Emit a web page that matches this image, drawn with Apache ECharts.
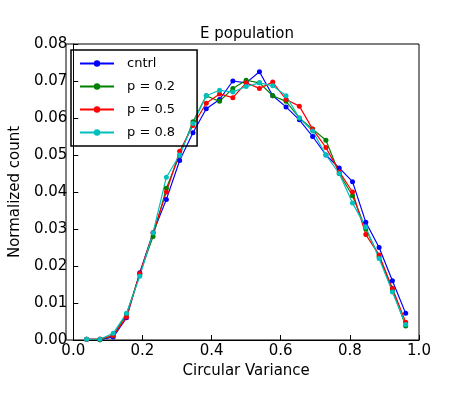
<!DOCTYPE html>
<html><head><meta charset="utf-8">
<script src="https://cdn.jsdelivr.net/npm/echarts@6/dist/echarts.min.js"></script>
<style>html,body{margin:0;padding:0;background:#fff}#c{width:459px;height:400px}</style>
</head><body><div id="c"></div>
<script>
const xs = [];
for (let i = 1; i <= 25; i++) xs.push(i / 26);
const cntrl = [0.0002,0.0001,0.0008,0.006,0.0182,0.029,0.038,0.0485,0.056,0.0625,0.065,0.070,0.0695,0.0725,0.066,0.063,0.0595,0.055,0.050,0.0465,0.0428,0.0318,0.025,0.016,0.0072];
const p02 = [0.0002,0.0001,0.0012,0.007,0.0178,0.028,0.041,0.050,0.059,0.066,0.0645,0.068,0.0702,0.0695,0.066,0.0645,0.060,0.057,0.054,0.045,0.039,0.030,0.0225,0.0135,0.0038];
const p05 = [0.0002,0.0003,0.0012,0.0062,0.018,0.029,0.040,0.051,0.058,0.064,0.0665,0.0655,0.0695,0.068,0.0697,0.065,0.0632,0.057,0.052,0.0455,0.040,0.0285,0.023,0.014,0.0048];
const p08 = [0.0002,0.0002,0.0018,0.0072,0.0172,0.029,0.044,0.050,0.0585,0.066,0.0675,0.067,0.0685,0.0695,0.0687,0.066,0.060,0.0565,0.050,0.045,0.037,0.0305,0.022,0.013,0.0042];
const names = ['cntrl', 'p = 0.2', 'p = 0.5', 'p = 0.8'];
const colors = ['#0000ff', '#008000', '#ff0000', '#00bfbf'];
const data = [cntrl, p02, p05, p08];

const chart = echarts.init(document.getElementById('c'));
const axisCommon = {
    axisLine: { lineStyle: { color: '#000', width: 1 } },
    axisTick: { inside: true, length: 5, lineStyle: { color: '#000' } },
    splitLine: { show: false },
    axisLabel: { color: '#000', fontSize: 15, fontFamily: 'DejaVu Sans' },
    nameTextStyle: { color: '#000', fontSize: 15, fontFamily: 'DejaVu Sans' },
};
chart.setOption({
    animation: false,
    title: { text: 'E population', left: 242, top: 22, textAlign: 'center',
        textStyle: { fontSize: 15, fontWeight: 'normal', fontFamily: 'DejaVu Sans', color: '#000' } },
    legend: {
        data: names, orient: 'vertical', left: 71, top: 50, itemWidth: 34, itemHeight: 8, itemGap: 10,
        borderColor: '#000', borderWidth: 1.5, borderRadius: 0, padding: [7, 22, 7, 8],
        textStyle: { fontSize: 13, fontFamily: 'DejaVu Sans', color: '#000', padding: [0, 0, 0, 8] },
    },
    grid: { left: 66, right: 40, top: 44, bottom: 60 },
    xAxis: Object.assign({}, axisCommon, {
        type: 'value', min: 0, max: 1, interval: 0.2,
        name: 'Circular Variance', nameLocation: 'middle', nameGap: 22,
        axisLabel: Object.assign({}, axisCommon.axisLabel, { formatter: v => v.toFixed(1), margin: 4 }),
    }),
    yAxis: Object.assign({}, axisCommon, {
        type: 'value', min: 0, max: 0.08, interval: 0.01,
        name: 'Normalized count', nameLocation: 'middle', nameGap: 50,
        axisLabel: Object.assign({}, axisCommon.axisLabel, { formatter: v => v.toFixed(2), margin: 6 }),
    }),
    series: data.map((d, k) => ({
        name: names[k], type: 'line', data: d.map((v, i) => [xs[i], v]),
        symbol: 'circle', symbolSize: 5, color: colors[k], lineStyle: { width: 1.2 },
    })),
});
// top/right frame
chart.setOption({ graphic: [{ type: 'rect', shape: { x: 66, y: 44, width: 353, height: 296 },
    style: { fill: 'none', stroke: '#000', lineWidth: 1 }, silent: true }] });
</script></body></html>
